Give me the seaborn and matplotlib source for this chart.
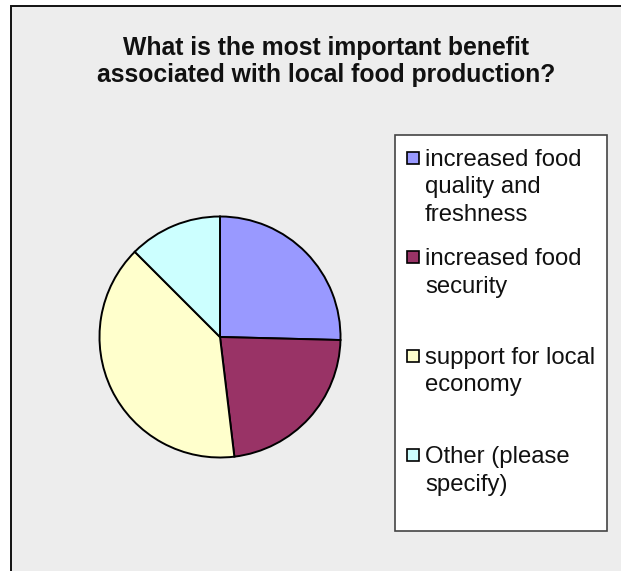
import matplotlib
matplotlib.use("Agg")
import matplotlib.pyplot as plt
from matplotlib.patches import Rectangle
import seaborn as sns

# Survey responses (share of respondents, %)
categories = [
    "increased food\nquality and\nfreshness",
    "increased food\nsecurity",
    "support for local\neconomy",
    "Other (please\nspecify)",
]
shares = [25.4, 22.7, 39.4, 12.5]
slice_colors = ["#9999FF", "#993366", "#FFFFCC", "#CCFFFF"]
title_lines = [
    "What is the most important benefit",
    "associated with local food production?",
]

sns.set_style("white")
plt.rcParams["font.family"] = ["Liberation Sans", "DejaVu Sans"]

W, H = 621, 571
DPI = 100
fig = plt.figure(figsize=(W / DPI, H / DPI), dpi=DPI)
fig.patch.set_facecolor("white")


def fx(x):
    return x / W


def fy(y):
    return 1 - y / H


# chart area: grey panel with a dark frame
fig.patches.append(Rectangle((fx(11), fy(H + 20)), fx(W + 40), fy(6) - fy(H + 20),
                             transform=fig.transFigure, facecolor="#EDEDED",
                             edgecolor="#111111", linewidth=1.4, zorder=-5))

# title
fig.text(fx(326), fy(55), title_lines[0], ha="center", va="baseline",
         fontsize=17.8, fontweight="bold", color="#111111")
fig.text(fx(326), fy(82), title_lines[1], ha="center", va="baseline",
         fontsize=17.8, fontweight="bold", color="#111111")

# pie (axes box padded so the outline is not clipped)
cx, cy, r = 220, 337, 120.5
pad = 1.03
half = r * pad
ax = fig.add_axes([fx(cx - half), fy(cy + half), (2 * half) / W, (2 * half) / H])
ax.set_zorder(2)
ax.pie(shares, colors=slice_colors, startangle=90, counterclock=False,
       radius=1.0,
       wedgeprops=dict(edgecolor="black", linewidth=1.4))
ax.set_xlim(-pad, pad)
ax.set_ylim(-pad, pad)
ax.set_aspect("equal")
ax.axis("off")

# legend box
fig.patches.append(Rectangle((fx(395), fy(531)), fx(607) - fx(395), fy(135) - fy(531),
                             transform=fig.transFigure, facecolor="white",
                             edgecolor="#444444", linewidth=1.2, zorder=1))

first_baseline = 166
entry_step = 99
line_step = 27.5
for i, (label, col) in enumerate(zip(categories, slice_colors)):
    base = first_baseline + i * entry_step
    fig.patches.append(Rectangle((fx(407), fy(base - 2)), fx(12), fy(0) - fy(12),
                                 transform=fig.transFigure, facecolor=col,
                                 edgecolor="black", linewidth=1.2, zorder=2))
    for j, line in enumerate(label.split("\n")):
        fig.text(fx(425), fy(base + j * line_step), line, ha="left",
                 va="baseline", fontsize=17.2, color="#111111", zorder=3)

fig.savefig("out.png", dpi=DPI)
